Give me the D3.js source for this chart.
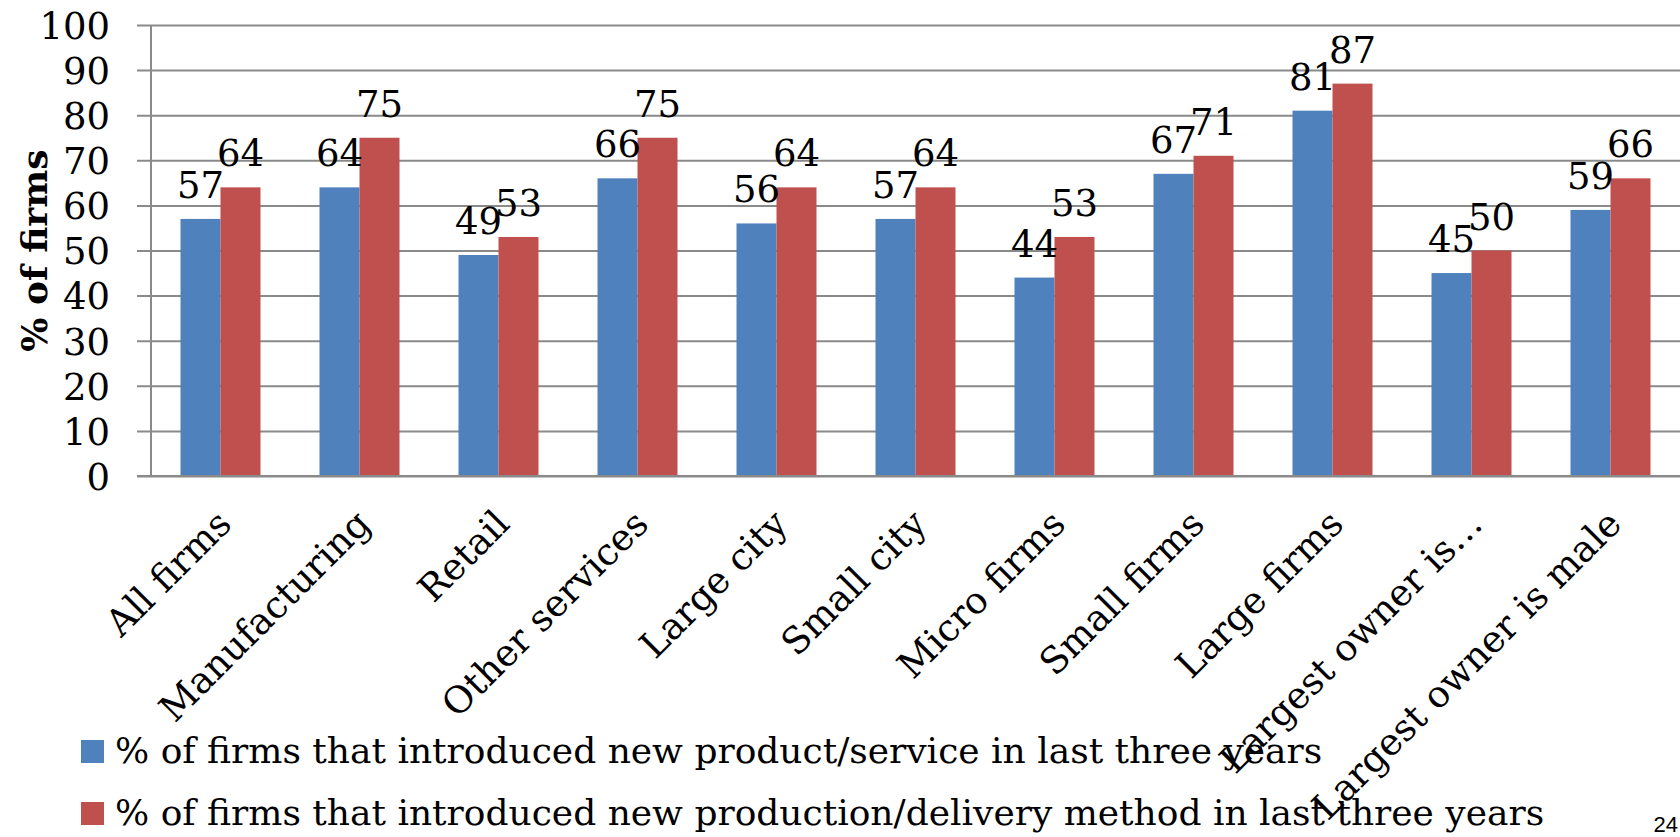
<!DOCTYPE html>
<html>
<head>
<meta charset="utf-8">
<script src="https://cdn.jsdelivr.net/npm/d3@7"></script>
<style>
  html, body { margin: 0; padding: 0; background: #fff; }
  svg { display: block; }
  text { font-family: "DejaVu Serif", serif; fill: #000; }
</style>
</head>
<body>
<svg id="chart" width="1680" height="837"></svg>
<script>
// Innovation by firm group
const categories = [
  "All firms", "Manufacturing", "Retail", "Other services", "Large city",
  "Small city", "Micro firms", "Small firms", "Large firms",
  "Largest owner is…", "Largest owner is male"
];
const seriesNames = [
  "% of firms that introduced new product/service in last three years",
  "% of firms that introduced new production/delivery method in last three years"
];
const productValues = [57, 64, 49, 66, 56, 57, 44, 67, 81, 45, 59];
const methodValues  = [64, 75, 53, 75, 64, 64, 53, 71, 87, 50, 66];
const yTicks = [0, 10, 20, 30, 40, 50, 60, 70, 80, 90, 100];
const yTitle = "% of firms";
const colors = ["#4F81BD", "#C0504D"];

const seriesValues = [productValues, methodValues];
const rows = categories.map((c, i) => ({
  category: c,
  values: seriesNames.map((s, k) => ({ key: k, value: seriesValues[k][i] }))
}));

const svg = d3.select("#chart");
const plot = { left: 151, right: 1680, top: 25, bottom: 476 };

const x = d3.scaleBand()
  .domain(categories)
  .range([plot.left, plot.right])
  .paddingInner(0.4245)
  .paddingOuter(0.2122);

const xSeries = d3.scaleBand()
  .domain(d3.range(seriesNames.length))
  .range([0, x.bandwidth()]);

const y = d3.scaleLinear().domain([0, 100]).range([plot.bottom, plot.top]);

// Horizontal gridlines with outward ticks, and tick labels
const yAxis = d3.axisLeft(y)
  .tickValues(yTicks)
  .tickSize(-(plot.right - plot.left))
  .tickSizeOuter(0)
  .tickPadding(0)
  .tickFormat(d3.format("d"));

const gy = svg.append("g")
  .attr("transform", `translate(${plot.left},0)`)
  .call(yAxis);
gy.select(".domain").remove();
gy.selectAll(".tick line")
  .attr("x1", -14)
  .attr("stroke", "#8a8a8a")
  .attr("stroke-width", 2);
gy.selectAll(".tick text")
  .attr("x", -41)
  .attr("dy", "0.36em")
  .style("font-family", "DejaVu Serif, serif")
  .style("font-size", "37px")
  .attr("fill", "#000");

// Vertical axis line
svg.append("line")
  .attr("x1", plot.left).attr("x2", plot.left)
  .attr("y1", y(100)).attr("y2", y(0))
  .attr("stroke", "#8a8a8a")
  .attr("stroke-width", 2);

// Bars
const groups = svg.append("g").selectAll("g")
  .data(rows)
  .join("g")
  .attr("transform", d => `translate(${x(d.category)},0)`);

groups.selectAll("rect")
  .data(d => d.values)
  .join("rect")
  .attr("x", d => xSeries(d.key))
  .attr("width", xSeries.bandwidth())
  .attr("y", d => y(d.value))
  .attr("height", d => y(0) - y(d.value))
  .attr("fill", d => colors[d.key]);

// Value labels above bars
groups.selectAll("text.value")
  .data(d => d.values)
  .join("text")
  .attr("class", "value")
  .attr("x", d => xSeries(d.key) + xSeries.bandwidth() / 2)
  .attr("y", d => y(d.value) - 21)
  .attr("text-anchor", "middle")
  .style("font-size", "37px")
  .text(d => d.value);

// Redraw the baseline over the bars
svg.append("line")
  .attr("x1", plot.left - 14).attr("x2", plot.right)
  .attr("y1", y(0)).attr("y2", y(0))
  .attr("stroke", "#8a8a8a")
  .attr("stroke-width", 2);

// Rotated category labels
svg.append("g").selectAll("text")
  .data(categories)
  .join("text")
  .attr("transform", d => `translate(${x(d) + x.bandwidth() / 2 + 13},${plot.bottom + 50}) rotate(-45)`)
  .attr("text-anchor", "end")
  .style("font-size", "37px")
  .text(d => d);

// Y axis title
svg.append("text")
  .attr("transform", `translate(47,${(plot.top + plot.bottom) / 2}) rotate(-90)`)
  .attr("text-anchor", "middle")
  .style("font-size", "36px")
  .style("font-weight", "bold")
  .text(yTitle);

// Legend
const legend = svg.append("g").selectAll("g")
  .data(seriesNames)
  .join("g")
  .attr("transform", (d, i) => `translate(81,${740 + i * 62})`);
legend.append("rect")
  .attr("width", 23).attr("height", 23)
  .attr("fill", (d, i) => colors[i]);
legend.append("text")
  .attr("x", 34)
  .attr("y", 23)
  .style("font-size", "36px")
  .text(d => d);

// Slide number
svg.append("text")
  .attr("x", 1678)
  .attr("y", 832)
  .attr("text-anchor", "end")
  .style("font-family", "Liberation Sans, Arial, sans-serif")
  .style("font-size", "22px")
  .attr("fill", "#8c8c8c")
  .text("24");
</script>
</body>
</html>
